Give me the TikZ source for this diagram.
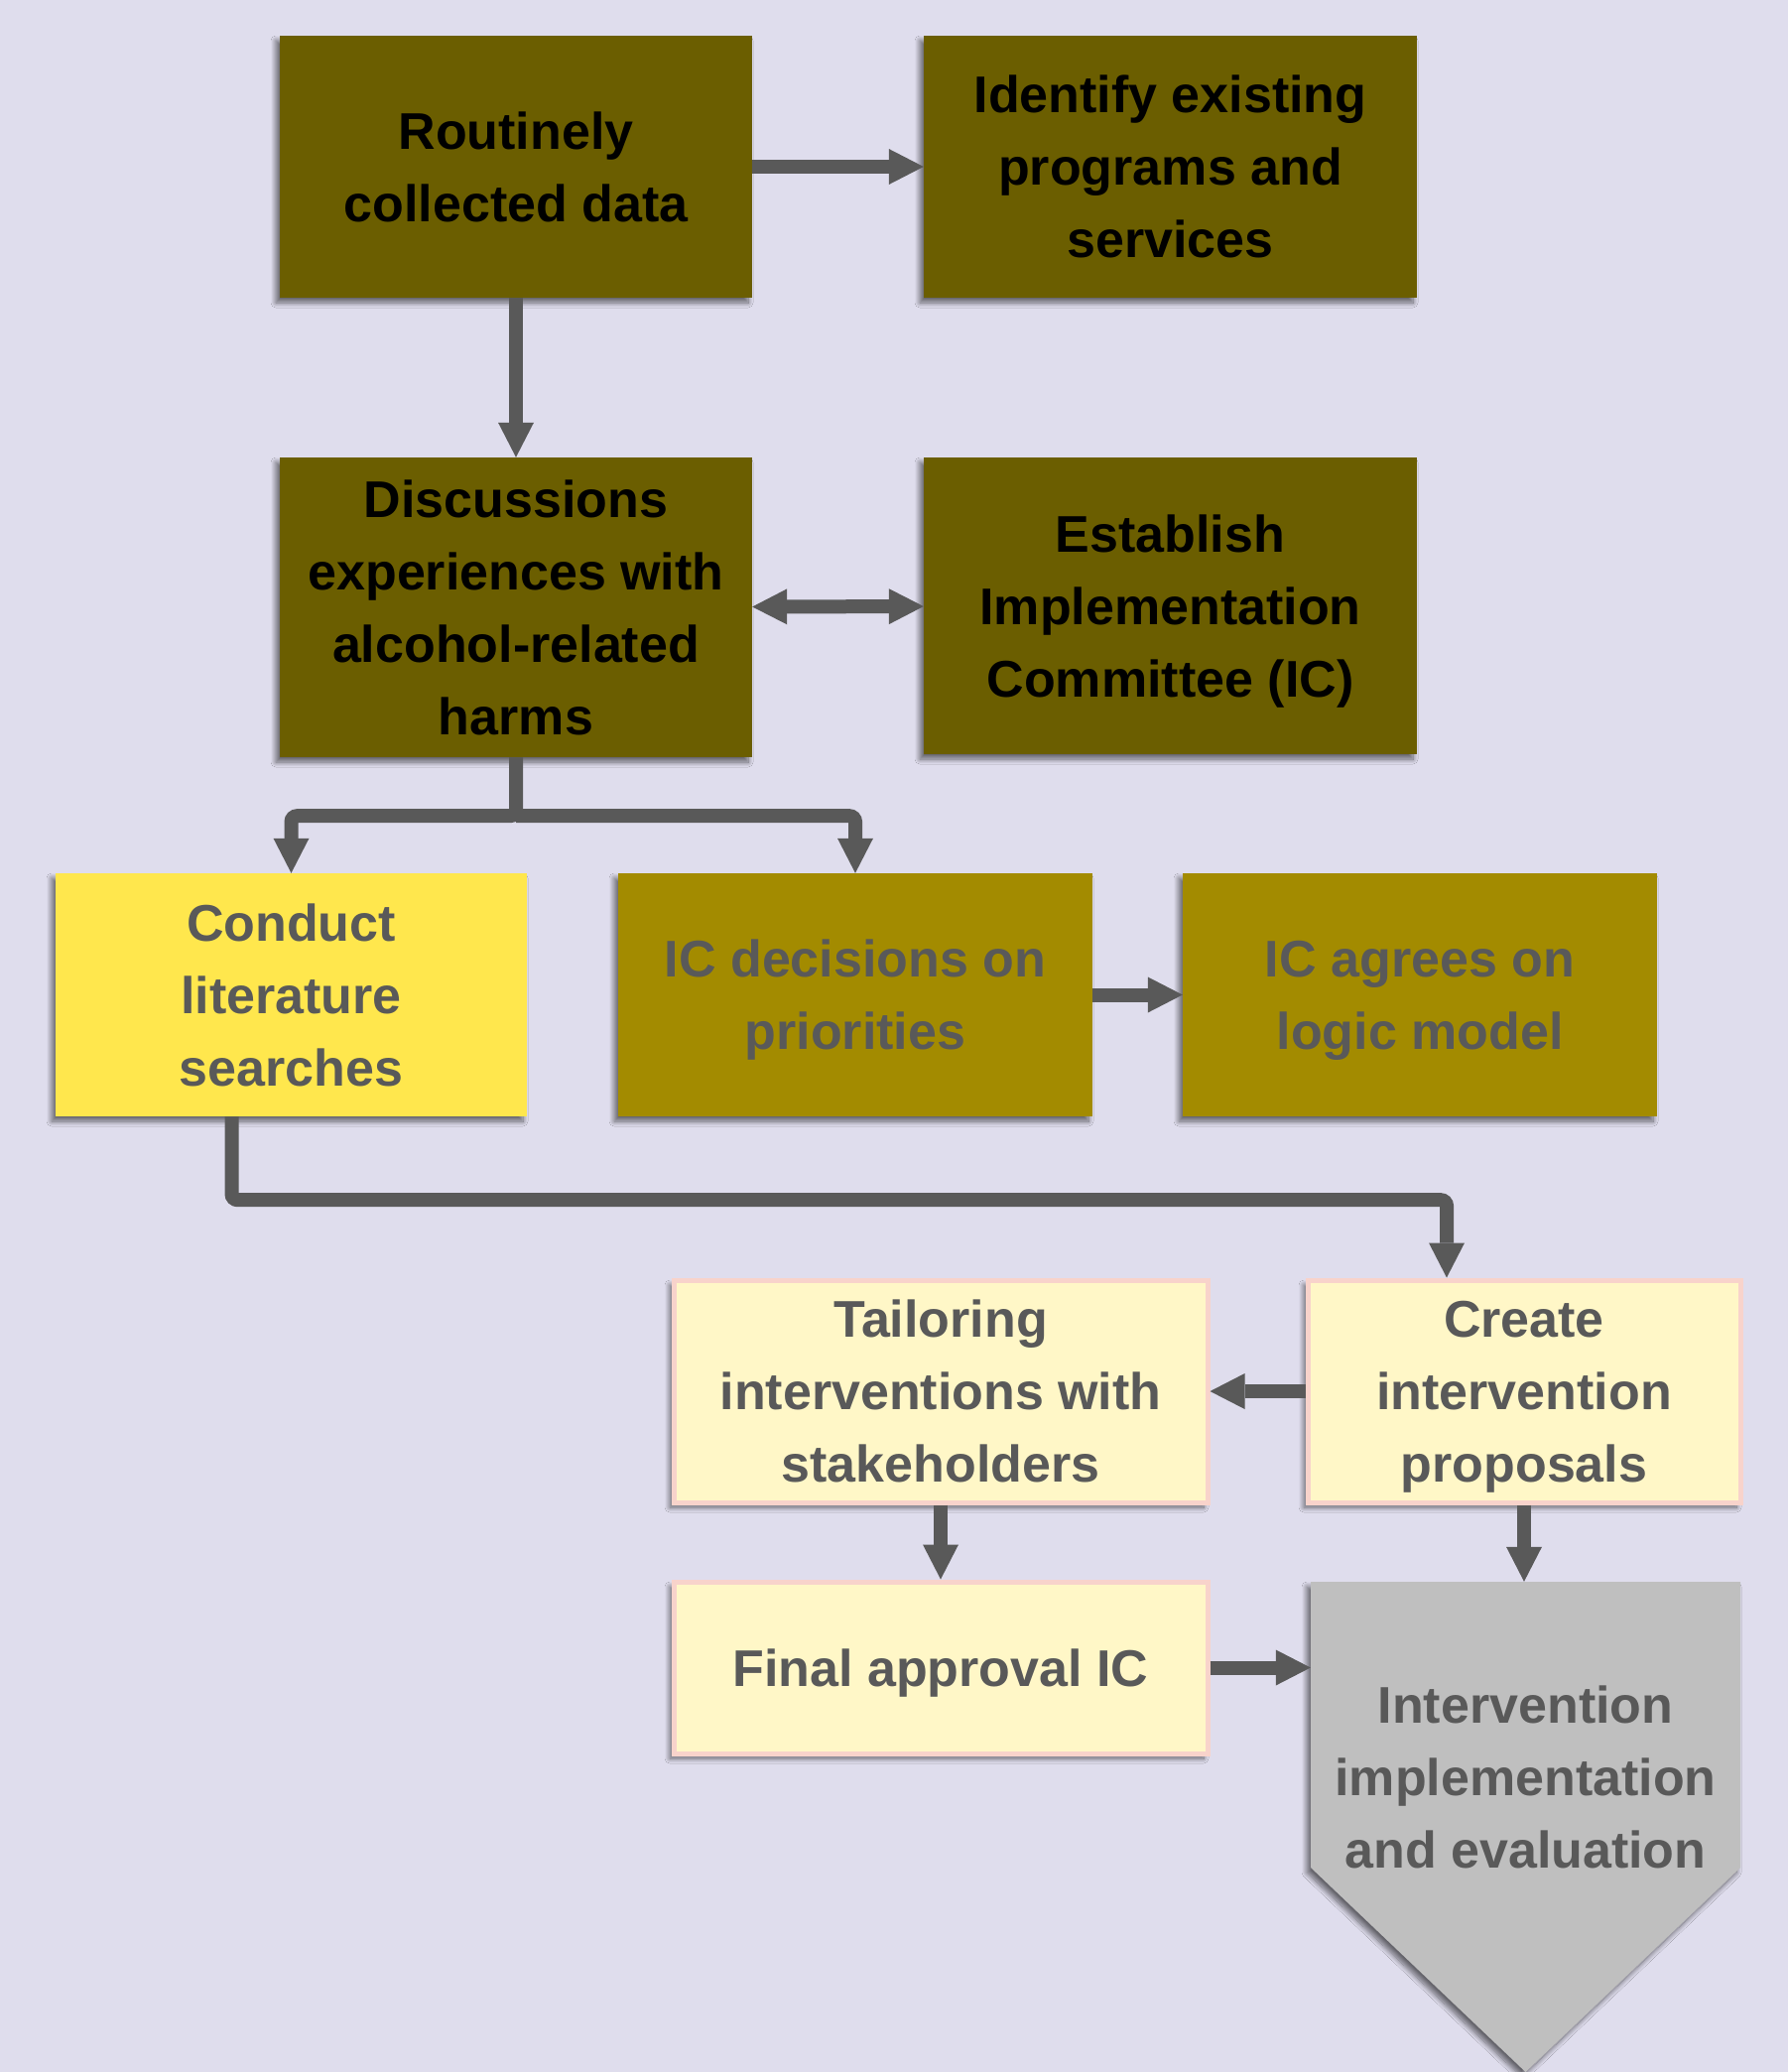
\documentclass[tikz,border=0pt]{standalone}
\usepackage{fontspec}
\setmainfont{Liberation Sans}
\usetikzlibrary{arrows.meta,shadows.blur}
\definecolor{bgcol}{HTML}{DFDDED}
\definecolor{olivedark}{HTML}{6B5E00}
\definecolor{olivemid}{HTML}{A38B00}
\definecolor{yellowbright}{HTML}{FFE74D}
\definecolor{yellowpale}{HTML}{FFF7C7}
\definecolor{pinkline}{HTML}{F8D3CB}
\definecolor{greybox}{HTML}{BFBFBF}
\definecolor{greyink}{HTML}{595959}
\definecolor{shadowcol}{HTML}{45435A}
\newcommand\boxstrut{\rule[-18pt]{0pt}{73pt}}
\begin{document}
\begin{tikzpicture}[x=1pt,y=-1pt,
    softshadow/.style={blur shadow={shadow xshift=-4pt,shadow yshift=-5pt,shadow blur radius=5pt,shadow blur steps=10,shadow opacity=55,shadow blur extra rounding=0pt}},
    box/.style={rectangle, inner sep=0pt, align=center,
        font=\fontsize{52}{73}\selectfont\bfseries,
        execute at end node=\boxstrut, softshadow},
    darkbox/.style={box, fill=olivedark, text=black},
    midbox/.style={box, fill=olivemid, text=greyink},
    brightbox/.style={box, fill=yellowbright, text=greyink},
    palebox/.style={box, fill=yellowpale, draw=pinkline, line width=5pt, text=greyink},
    arr/.style={draw=greyink, line width=14pt, -{Triangle[length=35pt,width=36pt,line width=0pt]}},
    arrboth/.style={arr, {Triangle[length=35pt,width=36pt,line width=0pt]}-{Triangle[length=35pt,width=36pt,line width=0pt]}}]
    \fill[bgcol] (0,0) rectangle (1802,2088);
    \useasboundingbox (0,0) rectangle (1802,2088);

    \node[darkbox, minimum width=476pt, minimum height=264pt] (data) at (520,168) {\boxstrut Routinely\\collected data};
    \node[darkbox, minimum width=497pt, minimum height=264pt] (programs) at (1179.5,168) {\boxstrut Identify existing\\programs and\\services};
    \node[darkbox, minimum width=476pt, minimum height=302pt] (discuss) at (520,612) {\boxstrut Discussions\\experiences with\\alcohol-related\\harms};
    \node[darkbox, minimum width=497pt, minimum height=299pt] (committee) at (1179.5,610.5) {\boxstrut Establish\\Implementation\\Committee (IC)};
    \node[brightbox, minimum width=475pt, minimum height=245pt] (search) at (293.5,1002.5) {\boxstrut Conduct\\literature\\searches};
    \node[midbox, minimum width=478pt, minimum height=245pt] (priorities) at (862,1002.5) {\boxstrut IC decisions on\\priorities};
    \node[midbox, minimum width=478pt, minimum height=245pt] (logic) at (1431,1002.5) {\boxstrut IC agrees on\\logic model};
    \node[palebox, minimum width=538pt, minimum height=224pt] (tailor) at (948,1402) {\boxstrut Tailoring\\interventions with\\stakeholders};
    \node[palebox, minimum width=436pt, minimum height=224pt] (create) at (1536,1402) {\boxstrut Create\\intervention\\proposals};
    \node[palebox, minimum width=538pt, minimum height=173pt] (approval) at (948,1680.5) {\boxstrut Final approval IC};

    % pentagon arrow at the end
    \fill[greybox, softshadow]
        (1321,1594) -- (1754,1594) -- (1754,1882) -- (1537.5,2088) -- (1321,1882) -- cycle;
    \node[rectangle, inner sep=0pt, align=center, text=greyink, font=\fontsize{52}{73}\selectfont\bfseries,
        execute at end node=\boxstrut,
        minimum width=433pt, minimum height=394pt] (implement) at (1537.5,1791) {\boxstrut Intervention\\implementation\\and evaluation};

    \draw[arr] (data) -- (programs);
    \draw[arr] (data) -- (discuss);
    \draw[arrboth] (discuss) -- (committee);
    \draw[arr, rounded corners=6pt] (discuss.south) -- ++(0,59) coordinate (split) -| (search.north);
    \draw[arr, rounded corners=6pt] (split) -| (priorities.north);
    \draw[arr] (priorities) -- (logic);
    \draw[arr, rounded corners=6pt] ([xshift=-60pt]search.south) -- ++(0,84) -| ([xshift=-78pt]create.north);
    \draw[arr] (create) -- (tailor);
    \draw[arr] (tailor) -- (approval);
    \draw[arr] (create.south) -- (create.south |- implement.north);
    \draw[arr] (approval) -- (approval -| implement.west);
\end{tikzpicture}
\end{document}
